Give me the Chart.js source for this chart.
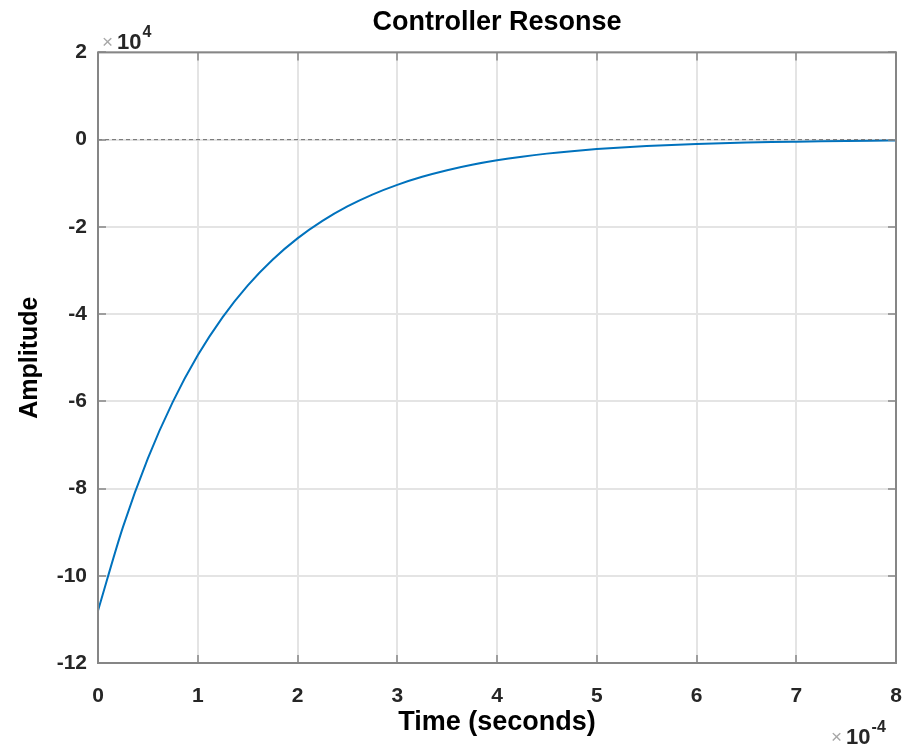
<!DOCTYPE html>
<html>
<head>
<meta charset="utf-8">
<script src="https://cdn.jsdelivr.net/npm/chart.js@4.4.0/dist/chart.umd.min.js"></script>
<style>
html, body { margin: 0; padding: 0; background: #fff; }
#wrap { width: 905px; height: 749px; }
</style>
</head>
<body>
<div id="wrap"><canvas id="c" width="905" height="749"></canvas></div>
<script>
// time in units of 1e-4 s, amplitude in units of 1e4
const timeValues = [0, 0.25, 0.5, 0.75, 1, 1.25, 1.5, 1.75, 2, 2.25, 2.5, 2.75, 3,
    3.25, 3.5, 3.75, 4, 4.25, 4.5, 4.75, 5, 5.25, 5.5, 5.75, 6, 6.25, 6.5, 6.75,
    7, 7.25, 7.5, 7.75, 8];
const amplitudeValues = [-10.8, -8.884, -7.308, -6.012, -4.945, -4.068, -3.346,
    -2.753, -2.264, -1.863, -1.532, -1.260, -1.037, -0.853, -0.702, -0.577,
    -0.475, -0.391, -0.321, -0.264, -0.217, -0.179, -0.147, -0.121, -0.100,
    -0.082, -0.067, -0.055, -0.046, -0.038, -0.031, -0.025, -0.021];
const zeroLineTime = [0, 8];
const zeroLineValue = [0, 0];

const xRange = [0, 8];
const yRange = [-12, 2];
const xStep = 1;
const yStep = 2;

const titleText = 'Controller Resonse';
const xLabel = 'Time (seconds)';
const yLabel = 'Amplitude';
const yExponent = '4';
const xExponent = '-4';

const FONT = '"Liberation Sans", Arial, sans-serif';
const TEXT = '#262626';

// box, inward tick marks and the x10^n multipliers, MATLAB style
const matlabFrame = {
    id: 'matlabFrame',
    afterDraw(chart) {
        const { ctx, chartArea: a, scales: { x, y } } = chart;
        ctx.save();
        ctx.strokeStyle = '#868686';
        ctx.lineWidth = 2;
        ctx.strokeRect(a.left, a.top, a.right - a.left, a.bottom - a.top);

        ctx.lineWidth = 1.5;
        ctx.beginPath();
        x.ticks.forEach(t => {
            const px = Math.round(x.getPixelForValue(t.value));
            ctx.moveTo(px, a.bottom); ctx.lineTo(px, a.bottom - 8);
            ctx.moveTo(px, a.top); ctx.lineTo(px, a.top + 8);
        });
        y.ticks.forEach(t => {
            const py = Math.round(y.getPixelForValue(t.value));
            ctx.moveTo(a.left, py); ctx.lineTo(a.left + 8, py);
            ctx.moveTo(a.right, py); ctx.lineTo(a.right - 8, py);
        });
        ctx.stroke();

        function multiplier(left, baseline, exp) {
            ctx.textAlign = 'left';
            ctx.textBaseline = 'alphabetic';
            ctx.fillStyle = '#a8a8a8';
            ctx.font = '19px ' + FONT;
            ctx.fillText('\u00d7', left, baseline - 1);
            const w = ctx.measureText('\u00d7').width;
            ctx.fillStyle = TEXT;
            ctx.font = 'bold 22px ' + FONT;
            ctx.fillText('10', left + w + 4, baseline);
            const w2 = ctx.measureText('10').width;
            ctx.font = 'bold 16px ' + FONT;
            ctx.fillText(exp, left + w + 5 + w2, baseline - 12);
        }
        multiplier(102, 49, yExponent);
        multiplier(831, 744, xExponent);
        ctx.restore();
    }
};

const curve = timeValues.map((t, i) => ({ x: t, y: amplitudeValues[i] }));
const zeroLine = zeroLineTime.map((t, i) => ({ x: t, y: zeroLineValue[i] }));

new Chart(document.getElementById('c'), {
    type: 'scatter',
    data: {
        datasets: [
            {
                data: zeroLine,
                showLine: true,
                borderColor: '#6e6e6e',
                borderWidth: 1,
                borderDash: [4, 3],
                pointRadius: 0
            },
            {
                data: curve,
                showLine: true,
                borderColor: '#0072BD',
                borderWidth: 2,
                pointRadius: 0,
                cubicInterpolationMode: 'monotone'
            }
        ]
    },
    options: {
        responsive: false,
        animation: false,
        layout: { padding: { left: 0, right: 9, top: 0, bottom: 0 } },
        plugins: {
            legend: { display: false },
            tooltip: { enabled: false },
            title: {
                display: true,
                text: titleText,
                fullSize: false,
                color: '#000',
                font: { family: FONT, size: 27, weight: 'bold', lineHeight: 1.2 },
                padding: { top: 6, bottom: 14 }
            }
        },
        scales: {
            x: {
                type: 'linear',
                min: xRange[0],
                max: xRange[1],
                afterFit(scale) {
                    scale.height = 86;
                    scale.paddingLeft = 0;
                    scale.paddingRight = 0;
                },
                ticks: {
                    stepSize: xStep,
                    color: TEXT,
                    font: { family: FONT, size: 21, weight: 'bold' },
                    padding: 21,
                    maxRotation: 0
                },
                grid: { color: '#e4e4e4', lineWidth: 2, drawTicks: false },
                border: { display: false },
                title: {
                    display: true,
                    text: xLabel,
                    color: '#000',
                    font: { family: FONT, size: 27, weight: 'bold', lineHeight: 1.2 },
                    padding: { top: 10, bottom: 10 }
                }
            },
            y: {
                type: 'linear',
                min: yRange[0],
                max: yRange[1],
                afterFit(scale) { scale.width = 98; },
                ticks: {
                    stepSize: yStep,
                    color: TEXT,
                    font: { family: FONT, size: 21, weight: 'bold' },
                    padding: 11
                },
                grid: { color: '#e4e4e4', lineWidth: 2, drawTicks: false },
                border: { display: false },
                title: {
                    display: true,
                    text: yLabel,
                    color: '#000',
                    font: { family: FONT, size: 25, weight: 'bold', lineHeight: 1.2 },
                    padding: { top: 15, bottom: 15 }
                }
            }
        }
    },
    plugins: [matlabFrame]
});
</script>
</body>
</html>
